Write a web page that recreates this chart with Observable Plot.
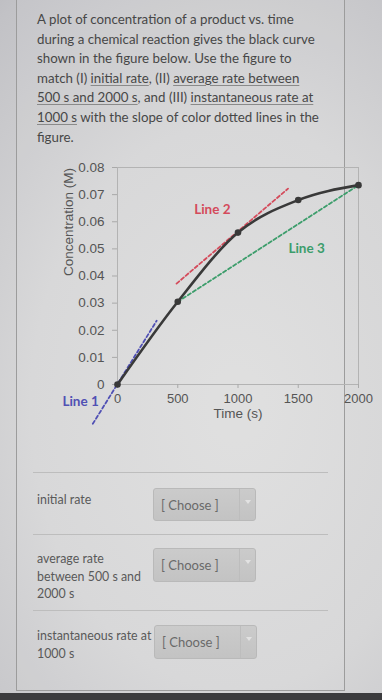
<!DOCTYPE html>
<html>
<head>
<meta charset="utf-8">
<script src="https://cdn.jsdelivr.net/npm/d3@7"></script>
<script src="https://cdn.jsdelivr.net/npm/@observablehq/plot@0.6"></script>
<style>
html,body{margin:0;padding:0;width:382px;height:700px;overflow:hidden}
body{position:relative;font-family:Lato,"Open Sans",sans-serif;
  background:radial-gradient(ellipse 120% 90% at 62% 58%, #dedede 0%, #d6d6d7 45%, #c2c2c6 80%, #adadb2 100%);}
#panel{position:absolute;left:16px;top:-2px;width:327px;height:692px;border:1px solid #9c9c9c;border-top:none;background:rgba(255,255,255,0.06)}
#q{position:absolute;left:37px;top:10px;font-size:13.3px;line-height:19.6px;color:#474747;white-space:nowrap}
#q u{text-decoration-color:#8a8a8a;text-underline-offset:2px;text-decoration-thickness:1px}
#chart{position:absolute;left:0;top:150px}
.sep{position:absolute;left:33px;width:295px;height:1px;background:#bdbdbd}
.lbl{position:absolute;left:37px;font-size:12.4px;line-height:17.5px;color:#595959;white-space:nowrap}
.dd{position:absolute;left:153px;width:103px;height:33px;box-sizing:border-box;border:1px solid #b9b9b9;border-radius:3px;
  background:linear-gradient(#cbcbcb,#c3c3c3);}
.dd span{position:absolute;left:7px;top:8px;font-size:13px;color:#6a6a6a;white-space:nowrap}
.dd i{position:absolute;left:85px;top:0;bottom:0;border-left:1px solid #bdbdbd}
.dd b{position:absolute;left:91px;top:11px;width:0;height:0;border-left:3px solid transparent;border-right:3px solid transparent;border-top:4px solid #e2e2e2}
#bar{position:absolute;left:0;top:693px;width:382px;height:7px;background:#3c3c3e}
</style>
</head>
<body>
<div id="panel"></div>
<div id="q">A plot of concentration of a product vs. time<br>during a chemical reaction gives the black curve<br>shown in the figure below. Use the figure to<br>match (I) <u>initial rate</u>, (II) <u>average rate between</u><br><u>500 s and 2000 s</u>, and (III) <u>instantaneous rate at</u><br><u>1000 s</u> with the slope of color dotted lines in the<br>figure.</div>
<div id="chart"></div>
<div class="sep" style="top:472px"></div>
<div class="lbl" style="top:491px">initial rate</div>
<div class="dd" style="top:488px"><span>[ Choose ]</span><i></i><b></b></div>
<div class="sep" style="top:534px"></div>
<div class="lbl" style="top:550px">average rate<br>between 500 s and<br>2000 s</div>
<div class="dd" style="top:548px;height:34px"><span>[ Choose ]</span><i></i><b></b></div>
<div class="sep" style="top:610px"></div>
<div class="lbl" style="top:627px">instantaneous rate at<br>1000 s</div>
<div class="dd" style="top:625px;left:154px;height:34px"><span>[ Choose ]</span><i></i><b></b></div>
<div id="bar"></div>
<script>
// ---- data ----
const times = [0, 500, 1000, 1500, 2000];
const conc = [0, 0.0305, 0.056, 0.068, 0.0735];
const line1T = [-205, 325];
const line1C = [-0.0145, 0.0235];
const line2T = [490, 1415];
const line2C = [0.0372, 0.0722];
const line3T = [500, 2000];
const line3C = [0.0305, 0.0735];
const lineNames = ["Line 1", "Line 2", "Line 3"];
const labelT = [-155, 787, 1569];
const labelC = [-0.0064, 0.0645, 0.050];
const xTicks = [0, 500, 1000, 1500, 2000];
const yTicks = [0, 0.01, 0.02, 0.03, 0.04, 0.05, 0.06, 0.07, 0.08];
const xLabel = "Time (s)";
const yLabel = "Concentration (M)";

// ---- styles ----
const lineColors = ["#5050b4", "#d44b5b", "#3c9d6b"];
const curveColor = "#393939";

const curve = times.map((t, i) => ({t, c: conc[i]}));
const mk = (T, C) => T.map((t, i) => ({t, c: C[i]}));
const dashed = [mk(line1T, line1C), mk(line2T, line2C), mk(line3T, line3C)];
const labels = lineNames.map((name, i) => ({name, t: labelT[i], c: labelC[i], k: i}));
const labelFont = {fontFamily: "Lato, sans-serif", fontWeight: 700, fontSize: 13.5};

const chart = Plot.plot({
  width: 382,
  height: 284,
  marginLeft: 117,
  marginRight: 24,
  marginTop: 17,
  marginBottom: 50,
  style: {background: "transparent", fontFamily: "'Liberation Sans', Arial, sans-serif", fontSize: "13px", overflow: "visible"},
  x: {domain: [0, 2000]},
  y: {domain: [0, 0.08]},
  marks: [
    Plot.frame({stroke: "#b3b3b3", strokeWidth: 1}),
    Plot.axisY({ticks: yTicks, tickSize: 5, tickPadding: 8, stroke: "#a9a9a9", fill: "#555", label: null, fontSize: 13.5,
      tickFormat: d => d === 0 ? "0" : d.toFixed(2)}),
    Plot.axisX({ticks: xTicks, tickSize: 4, tickPadding: 5, stroke: "#a9a9a9", fill: "#555", label: null, fontSize: 13,
      tickFormat: d => String(d)}),
    Plot.text([xLabel], {frameAnchor: "bottom", dy: 33, fill: "#555", fontSize: 13.5}),
    Plot.text([yLabel], {frameAnchor: "left", dx: -49, rotate: -90, fill: "#555", fontSize: 13.5}),
    ...dashed.map((d, i) => Plot.line(d, {x: "t", y: "c", stroke: lineColors[i], strokeWidth: 1.8, strokeDasharray: "3.5,2.5"})),
    Plot.line(curve, {x: "t", y: "c", curve: "monotone-x", stroke: curveColor, strokeWidth: 2.6}),
    Plot.dot(curve, {x: "t", y: "c", r: 3.3, fill: curveColor}),
    Plot.text(labels.filter(d => d.k === 0), {x: "t", y: "c", text: "name", fill: lineColors[0], textAnchor: "end", ...labelFont}),
    Plot.text(labels.filter(d => d.k > 0), {x: "t", y: "c", text: "name", fill: d => lineColors[d.k], ...labelFont})
  ]
});
document.getElementById("chart").appendChild(chart);
</script>
</body>
</html>
